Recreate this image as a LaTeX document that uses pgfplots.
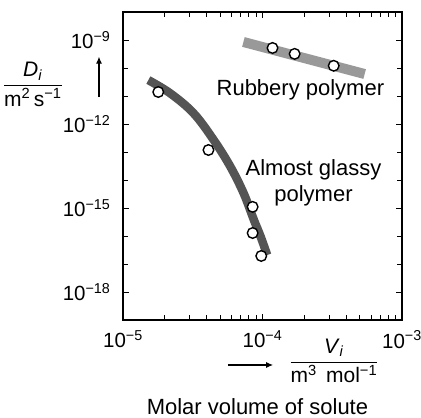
\documentclass[border=0pt]{standalone}
\usepackage{fontspec}
\setmainfont{Liberation Sans}
\usepackage{amsmath}
\usepackage{pgfplots}
\pgfplotsset{compat=1.18}
\usetikzlibrary{arrows.meta}
\begin{document}
\fontsize{22bp}{26bp}\selectfont
\begin{tikzpicture}
\begin{axis}[
  scale only axis, width=279bp, height=308bp,
  xmode=log, ymode=log,
  xmin=1e-5, xmax=1e-3, ymin=1e-19, ymax=1e-8,
  axis line style={line width=1.3bp},
  clip=false,
  xtick={1e-5,1e-4,1e-3},
  xticklabels={10\textsuperscript{−5},10\textsuperscript{−4},10\textsuperscript{−3}},
  ytick={1e-18,1e-15,1e-12,1e-9},
  yticklabels={10\textsuperscript{−18},10\textsuperscript{−15},10\textsuperscript{−12},10\textsuperscript{−9}},
  minor ytick={1e-19,1e-17,1e-16,1e-14,1e-13,1e-11,1e-10,1e-8},
  tick align=inside,
  major tick length=6bp, minor tick length=5bp,
  tick style={black, line width=1bp},
  tick label style={font=\fontsize{20.5bp}{24bp}\selectfont},
  yticklabel style={xshift=-5bp},
  xticklabel style={yshift=-3bp},
]
\addplot[color=black!40, line width=10bp] coordinates {(7.3e-5,8.5e-10) (5.4e-4,6.1e-11)};
\addplot[smooth, tension=0.6, color=black!67, line width=8.5bp] coordinates {
  (1.52e-5,3.7e-11) (2.18e-5,1.25e-11) (3.21e-5,2.41e-12) (4.47e-5,2.68e-13)
  (5.89e-5,2.98e-14) (7.33e-5,3.35e-15) (8.65e-5,3.9e-16) (9.7e-5,9.5e-17) (1.08e-4,2.1e-17)};
\addplot[only marks, mark=*, mark size=5.3bp, mark options={fill=white, draw=black, line width=1.4bp}] coordinates {
  (1.18e-4,5.2e-10) (1.70e-4,3.2e-10) (3.24e-4,1.2e-10)};
\addplot[only marks, mark=*, mark size=5.3bp, mark options={fill=white, draw=black, line width=1.4bp}] coordinates {
  (1.79e-5,1.39e-11) (4.1e-5,1.18e-13) (8.5e-5,1.1e-15) (8.5e-5,1.28e-16) (9.8e-5,1.94e-17)};
\node at (axis cs:1.87e-4,1.6e-11) {Rubbery polymer};
\node[align=center] at (axis cs:2.32e-4,7.9e-15) {Almost glassy\\polymer};
\node at (rel axis cs:-0.323,0.765) {\fontsize{21bp}{24bp}\selectfont$\dfrac{\text{\textit{D}\textsubscript{\textit{i}}}}{\text{m\textsuperscript{2}\,s\textsuperscript{−1}}}$};
\draw[-{Latex[length=7bp,width=6bp]}, line width=1.1bp] (rel axis cs:-0.086,0.724) -- (rel axis cs:-0.086,0.855);
\draw[-{Latex[length=7bp,width=6bp]}, line width=1.1bp] (rel axis cs:0.376,-0.146) -- (rel axis cs:0.538,-0.146);
\node at (rel axis cs:0.756,-0.133) {\fontsize{21bp}{24bp}\selectfont$\dfrac{\text{\textit{V}\textsubscript{\textit{i}}}}{\text{m\textsuperscript{3}\, mol\textsuperscript{−1}}}$};
\node at (rel axis cs:0.482,-0.282) {Molar volume of solute};
\end{axis}
\pgfresetboundingbox
\path ([shift={(-123bp,-98bp)}]current axis.south west) rectangle ([shift={(19bp,12bp)}]current axis.north east);
\end{tikzpicture}
\end{document}
